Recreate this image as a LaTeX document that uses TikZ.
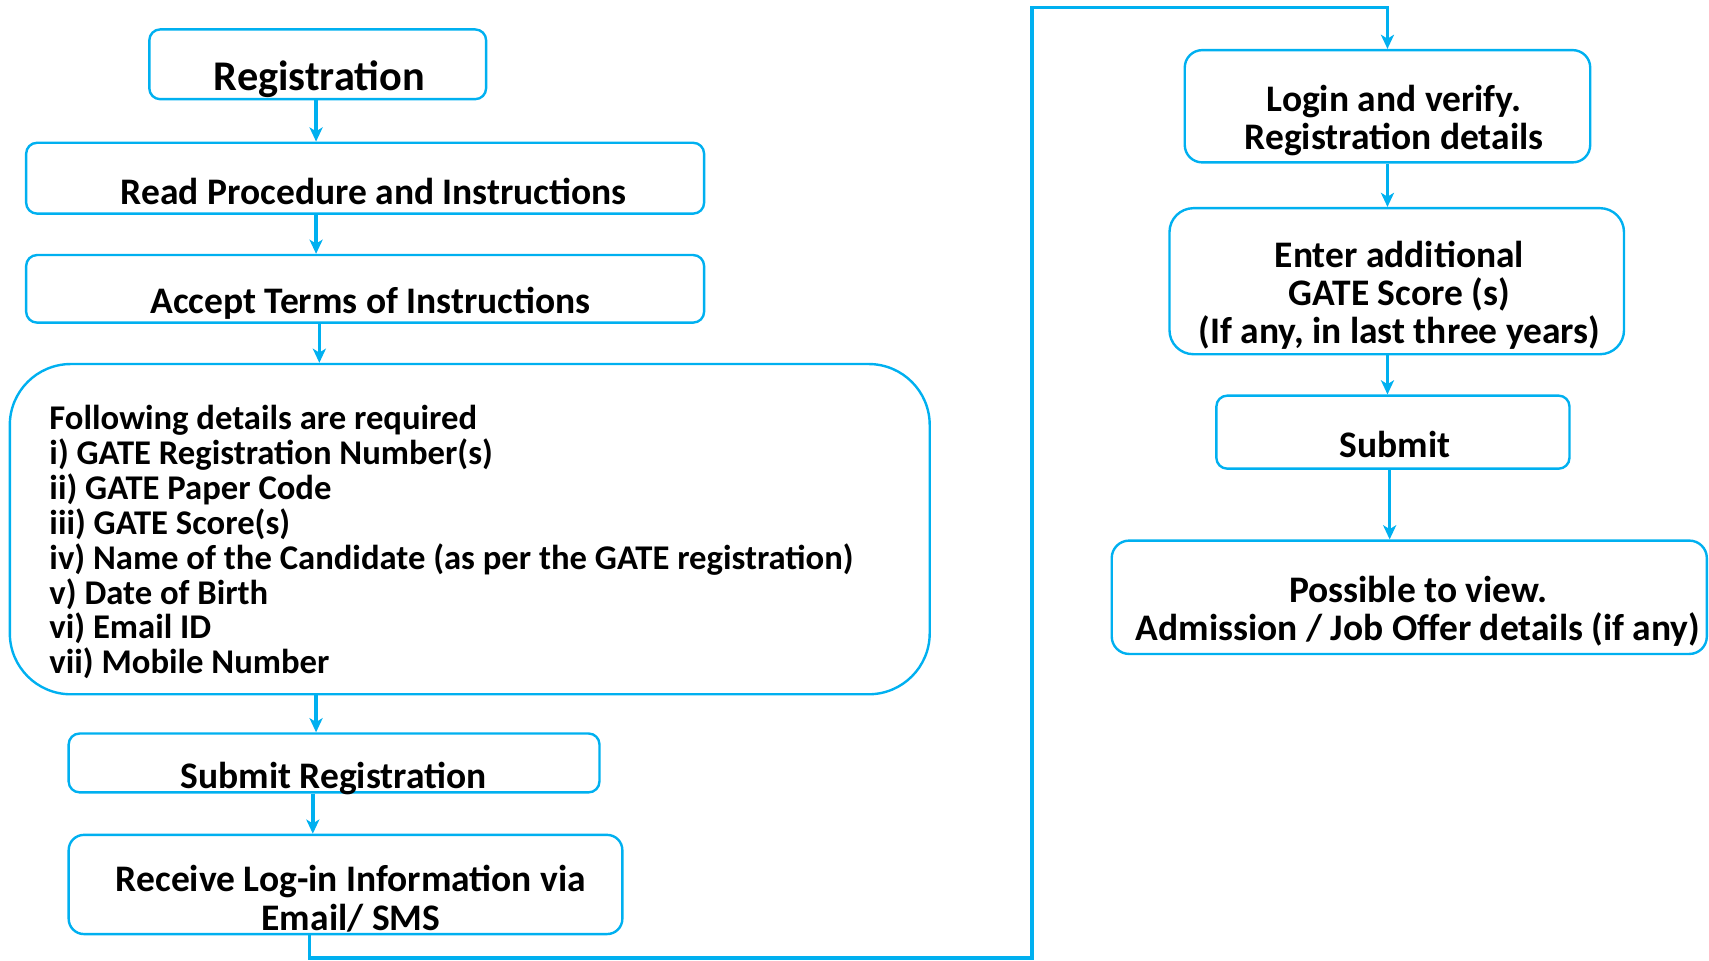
\documentclass[tikz,border=0pt]{standalone}
\usepackage{fontspec}
\setmainfont{Carlito}
\usetikzlibrary{arrows.meta}
\definecolor{flowblue}{RGB}{0,176,240}
\tikzset{
  box/.style={draw=flowblue, line width=1.1pt, rounded corners=5pt, inner sep=0pt},
  conn/.style={draw=flowblue, line width=1.6pt},
  arr/.style={conn, -{Stealth[length=6.5pt,width=6pt,inset=1.8pt]}},
  txt/.style={font=\fontsize{17.2}{17.5}\selectfont\bfseries, align=center, inner sep=0pt},
  listtxt/.style={font=\fontsize{15.9}{16}\selectfont\bfseries, align=left, inner sep=0pt},
  titletxt/.style={font=\fontsize{19.4}{20}\selectfont\bfseries, inner sep=0pt}
}
\begin{document}
\begin{tikzpicture}[x=0.5pt, y=-0.5pt]
\useasboundingbox (0,0) rectangle (1568,881);
% left column boxes
\node[box, minimum width=154.5pt, minimum height=32pt] (reg) at (291.5,59) {};
\node[box, minimum width=311pt, minimum height=32.5pt] (read) at (335,163.5) {};
\node[box, minimum width=311pt, minimum height=31pt] (accept) at (335,265) {};
\node[box, rounded corners=28pt, minimum width=422pt, minimum height=151.5pt] (details) at (431,485.5) {};
\node[box, minimum width=243.5pt, minimum height=27pt] (subreg) at (306.5,700) {};
\node[box, rounded corners=7pt, minimum width=254pt, minimum height=45.5pt] (recv) at (317,811.5) {};
% right column boxes
\node[box, rounded corners=8pt, minimum width=186pt, minimum height=51.5pt] (login) at (1273,97.5) {};
\node[box, rounded corners=11pt, minimum width=208.5pt, minimum height=67pt] (enter) at (1281.5,258) {};
\node[box, minimum width=162pt, minimum height=33.5pt] (submit) at (1278,396.5) {};
\node[box, rounded corners=8pt, minimum width=273pt, minimum height=52pt] (possible) at (1293,548) {};
% texts
\node[titletxt] (regT) at (293,73) {Registration};
\node[txt] (readT) at (343,176) {Read Procedure and Instructions};
\node[txt] (acceptT) at (340,278) {Accept Terms of Instructions};
\node[listtxt, anchor=west] (detailsT) at (45,497.5) {Following details are required\\
i) GATE Registration Number(s)\\
ii) GATE Paper Code\\
iii) GATE Score(s)\\
iv) Name of the Candidate (as per the GATE registration)\\
v) Date of Birth\\
vi) Email ID\\
vii) Mobile Number};
\node[txt] (subregT) at (306,714) {Submit Registration};
\node[txt] (recvT) at (322,824.5) {Receive Log-in Information via\\Email/ SMS};
\node[txt] (loginT) at (1279,110.5) {Login and verify.\\Registration details};
\node[txt] (enterT) at (1284,271) {Enter additional\\GATE Score (s)\\(If any, in last three years)};
\node[txt] (submitT) at (1280,408) {Submit};
\node[txt] (possibleT) at (1301,561) {Possible to view.\\Admission / Job Offer details (if any)};
% column coordinates
\coordinate (colL) at (290,0);
\coordinate (colR) at (1273,0);
\coordinate (c1) at (284,879);
\coordinate (c2) at (947,879);
\coordinate (c3) at (947,7);
\coordinate (c4) at (1273,7);
% connectors
\draw[arr] (reg.south -| colL) -- (read.north -| colL);
\draw[arr] (read.south -| colL) -- (accept.north -| colL);
\draw[arr] ([xshift=1.5pt]accept.south -| colL) -- ([xshift=1.5pt]details.north -| colL);
\draw[arr] (details.south -| colL) -- (subreg.north -| colL);
\draw[arr] ([xshift=-1.5pt]subreg.south -| colL) -- ([xshift=-1.5pt]recv.north -| colL);
\draw[arr] (recv.south -| c1) -- (c1) -- (c2) -- (c3) -- (c4) -- (login.north -| c4);
\draw[arr] (login.south -| colR) -- (enter.north -| colR);
\draw[arr] (enter.south -| colR) -- (submit.north -| colR);
\draw[arr] ([xshift=1pt]submit.south -| colR) -- ([xshift=1pt]possible.north -| colR);
\end{tikzpicture}
\end{document}
